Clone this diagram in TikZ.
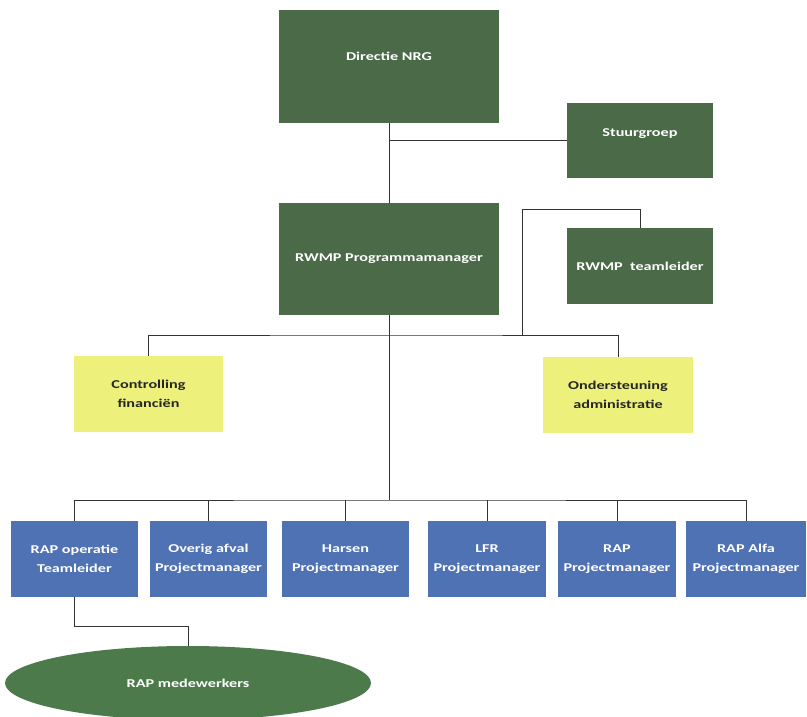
\documentclass[tikz,border=0pt]{standalone}
\usepackage{fontspec}
\setmainfont{Carlito}[FakeStretch=1.35]
\usetikzlibrary{shapes.geometric}
\definecolor{dgreen}{HTML}{4B6B48}
\definecolor{egreen}{HTML}{4C7A4A}
\definecolor{pyellow}{HTML}{EEF07C}
\definecolor{pblue}{HTML}{4F72B5}
\definecolor{lgray}{HTML}{333333}
\tikzset{
  box/.style={draw=none, rectangle, inner sep=0pt, align=center,
    font=\fontsize{12}{19}\selectfont\bfseries},
  gbox/.style={box, fill=dgreen, text=white},
  ybox/.style={box, fill=pyellow, text=black!85},
  bbox/.style={box, fill=pblue, text=white, minimum height=76pt},
  conn/.style={draw=lgray, line width=0.9pt},
}
\begin{document}
\begin{tikzpicture}[x=1pt,y=-1pt]
\useasboundingbox (0,0) rectangle (807,717);
% green boxes
\node[gbox, minimum width=220pt, minimum height=113pt] (dir) at (389,66.5) {};
\node[gbox] (dirtxt) at (389,56) {Directie NRG};
\node[gbox, minimum width=146pt, minimum height=75pt] (stuur) at (640,140.5) {};
\node[gbox] (stuurtxt) at (640,134) {Stuurgroep};
\node[gbox, minimum width=220pt, minimum height=112pt] (pm) at (389,259) {RWMP Programmamanager};
\node[gbox, minimum width=146pt, minimum height=76pt] (tl) at (640,266) {RWMP\ \ teamleider};
% yellow boxes
\node[ybox, minimum width=149pt, minimum height=76pt] (ctrl) at (148.5,394) {Controlling\\financiën};
\node[ybox, minimum width=150pt, minimum height=76pt] (ond) at (618,395) {Ondersteuning\\administratie};
% blue boxes
\node[bbox, minimum width=127pt] (b1) at (74.5,559) {RAP operatie\\Teamleider};
\node[bbox, minimum width=117pt] (b2) at (208.5,559) {Overig afval\\Projectmanager};
\node[bbox, minimum width=127pt] (b3) at (345.5,559) {Harsen\\Projectmanager};
\node[bbox, minimum width=118pt] (b4) at (487,559) {LFR\\Projectmanager};
\node[bbox, minimum width=118pt] (b5) at (617,559) {RAP\\Projectmanager};
\node[bbox, minimum width=120pt] (b6) at (746,559) {RAP Alfa\\Projectmanager};
% ellipse
\node[ellipse, fill=egreen, text=white, inner sep=0pt, minimum width=366pt, minimum height=74pt,
  font=\fontsize{12}{19}\selectfont\bfseries] (ell) at (188,683) {RAP medewerkers};
% connectors
\coordinate (tlc) at (522,209);
\coordinate (tld) at (522,335);
\coordinate (hy) at (389,335);
\coordinate (bus) at (389,500);
\coordinate (ej) at (188,626);
\draw[conn] (dir.south) -- (pm.north);
\draw[conn] (stuur.west) -- (stuur.west -| dir.south);
\draw[conn] (tl.north) |- (tlc) -- (tld);
\draw[conn] (pm.south) -- (bus);
\draw[conn] (ctrl.north) |- (hy) -| (ond.north);
\draw[conn] (b1.north) |- (bus) -| (b6.north);
\draw[conn] (b2.north) -- (b2.north |- bus);
\draw[conn] (b3.north) -- (b3.north |- bus);
\draw[conn] (b4.north) -- (b4.north |- bus);
\draw[conn] (b5.north) -- (b5.north |- bus);
\draw[conn] (b1.south) |- (ej) -- (ell.north);
\end{tikzpicture}
\end{document}
